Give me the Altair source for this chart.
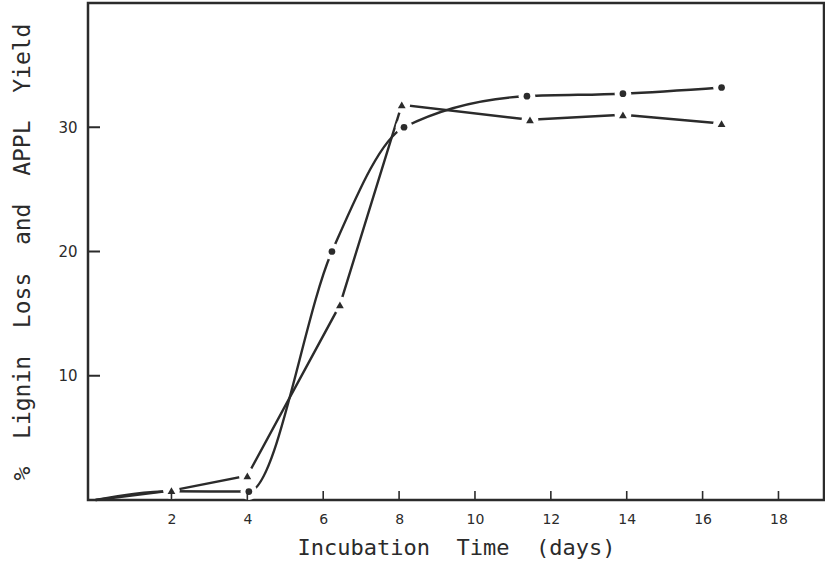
import altair as alt
import pandas as pd

# Incubation time (days) and yields (%) for the two measured quantities
days_triangle = [0, 2, 4, 6.44, 8.07, 11.45, 13.9, 16.5]
vals_triangle = [0, 0.76, 1.95, 15.7, 31.8, 30.6, 31.0, 30.3]
mark_triangle = [False, True, True, True, True, True, True, True]

days_circle = [0, 2, 4.04, 6.23, 8.13, 11.37, 13.9, 16.5]
vals_circle = [0, 0.7, 0.68, 20.0, 30.0, 32.5, 32.7, 33.2]
mark_circle = [False, False, True, True, True, True, True, True]

x_ticks = [2, 4, 6, 8, 10, 12, 14, 16, 18]
y_ticks = [10, 20, 30]

NB = "\u00a0\u00a0"
x_title = NB.join(["Incubation", "Time", "(days)"])
y_title = NB.join(["%", "Lignin", "Loss", "and", "APPL", "Yield"])

tri = pd.DataFrame({"day": days_triangle, "val": vals_triangle,
                    "shown": mark_triangle, "series": "APPL"})
cir = pd.DataFrame({"day": days_circle, "val": vals_circle,
                    "shown": mark_circle, "series": "Lignin"})

INK = "#2b2b2b"
FONT = "DejaVu Sans"
TITLE_FONT = "DejaVu Sans Mono"

xs = alt.Scale(domain=[-0.2, 19.2], nice=False, zero=False)
ys = alt.Scale(domain=[0, 40], nice=False)

x_enc = alt.X("day:Q", scale=xs, axis=alt.Axis(
    values=x_ticks, ticks=False, domain=False, grid=False,
    labelFont=FONT, labelFontSize=14, labelColor=INK, labelPadding=12,
    title=x_title, titleFont=TITLE_FONT, titleFontSize=22,
    titleFontWeight="normal", titleColor=INK, titleY=59, titleBaseline="bottom"))
y_enc = alt.Y("val:Q", scale=ys, axis=alt.Axis(
    values=y_ticks, ticks=False, domain=False, grid=False,
    labelFont=FONT, labelFontSize=15, labelColor=INK, labelPadding=11,
    title=y_title, titleFont=TITLE_FONT,
    titleFontSize=23, titleFontWeight="normal", titleColor=INK,
    titleX=-66, titleBaseline="middle"))

pos = dict(x=alt.X("day:Q", scale=xs), y=alt.Y("val:Q", scale=ys))

line_tri = alt.Chart(tri).mark_line(
    interpolate="linear", color=INK, strokeWidth=2.4
).encode(x=x_enc, y=y_enc)
line_cir = alt.Chart(cir).mark_line(
    interpolate="monotone", color=INK, strokeWidth=2.4
).encode(**pos)

marked_tri = alt.Chart(tri).transform_filter(alt.datum.shown)
marked_cir = alt.Chart(cir).transform_filter(alt.datum.shown)

# white halos open a small gap in each curve around its marker
halo_tri = marked_tri.mark_circle(fill="white", color="white", opacity=1,
                                  size=280).encode(**pos)
halo_cir = marked_cir.mark_circle(fill="white", color="white", opacity=1,
                                  size=280).encode(**pos)

dots = marked_cir.mark_point(
    filled=True, shape="circle", color=INK, opacity=1, size=45).encode(**pos)
tris = marked_tri.mark_point(
    filled=True, shape="triangle-up", color=INK, opacity=1, size=60).encode(**pos)

# inward tick marks along the left and bottom edges
ytick_marks = alt.Chart(pd.DataFrame({"val": y_ticks})).mark_rule(
    color=INK, strokeWidth=2).encode(
    y=alt.Y("val:Q", scale=ys), x=alt.value(0), x2=alt.value(12))
xtick_marks = alt.Chart(pd.DataFrame({"day": x_ticks})).mark_rule(
    color=INK, strokeWidth=1.6).encode(
    x=alt.X("day:Q", scale=xs), y=alt.value(497), y2=alt.value(488))

chart = alt.layer(
    line_tri, line_cir, halo_tri, halo_cir, dots, tris, ytick_marks, xtick_marks
).properties(
    width=736, height=497,
    autosize=alt.AutoSizeParams(type="none"),
    padding={"left": 88, "top": 3, "right": 1, "bottom": 66},
    background="white",
).configure_view(
    stroke=INK, strokeWidth=2.5
)

chart.save("out.html", embed_options={"renderer": "svg", "actions": False})
